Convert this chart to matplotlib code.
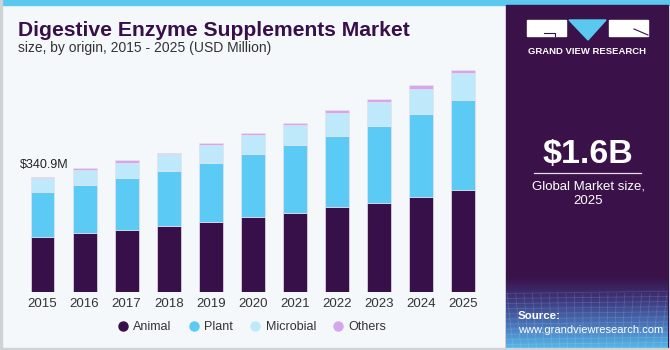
"""Digestive Enzyme Supplements Market, stacked bars by origin (USD Million)."""

import matplotlib

matplotlib.use("Agg")

import matplotlib.pyplot as plt  # noqa: E402
import numpy as np  # noqa: E402
from matplotlib.colors import LinearSegmentedColormap  # noqa: E402
from matplotlib.lines import Line2D  # noqa: E402
from matplotlib.patches import Polygon, Rectangle  # noqa: E402

plt.rcParams["font.family"] = ["Liberation Sans", "DejaVu Sans"]

years = ["2015", "2016", "2017", "2018", "2019", "2020",
         "2021", "2022", "2023", "2024", "2025"]
animal = [162.6, 173.6, 184.2, 196.0, 206.1, 220.9, 232.7, 250.5, 262.3, 280.9, 301.6]
plant = [134.0, 143.7, 153.8, 162.6, 176.2, 188.1, 202.9, 211.7, 229.5, 246.3, 265.2]
microbial = [39.6, 44.4, 44.4, 48.5, 51.5, 54.4, 59.1, 67.1, 71.0, 73.9, 81.6]
others = [4.7, 4.1, 7.1, 4.7, 5.9, 5.9, 5.9, 8.0, 8.0, 10.1, 8.9]
segments = ["Animal", "Plant", "Microbial", "Others"]
first_label = "$340.9M"

_BG = "#f4f8fb"
_PURPLE = "#37104a"
_COLORS = ["#37104a", "#5bcbf5", "#bee9fa", "#d5a6ec"]

W, H = 670, 350


def fx(px):
    return px / W


def fy(py):
    return 1 - py / H


fig = plt.figure(figsize=(6.7, 3.5), dpi=100, facecolor=_BG)

# frame: top strip, left/bottom border
fig.patches.append(Rectangle((0, fy(5)), 1, 5 / H, transform=fig.transFigure,
                             color="#5bc8f0", zorder=0))
fig.patches.append(Rectangle((0, 0), fx(2), 1, transform=fig.transFigure,
                             color="#cfd3d6", zorder=0))

# right panel
fig.patches.append(Rectangle((fx(506), 2 / H), fx(668) - fx(506), fy(5) - 2 / H,
                             transform=fig.transFigure, color="#3a1249", zorder=0))
gax = fig.add_axes([fx(506), 2 / H, fx(668) - fx(506), (348 - 278) / H])
gax.set_zorder(1)
grad = np.linspace(0, 1, 100)[:, None]
cmap = LinearSegmentedColormap.from_list(
    "g", ["#3a1249", "#3d3a80", "#4873b8", "#56b6e8"])
gax.imshow(grad, aspect="auto", cmap=cmap, extent=[0, 1, 0, 1], origin="upper")
for v in np.linspace(-0.1, 1.1, 26):
    gax.plot([v, v + 0.08 * (v - 0.5)], [0, 0.78], color="white", alpha=0.13, lw=0.6)
for h in np.linspace(0.05, 0.78, 11):
    gax.plot([0, 1], [h, h + 0.03], color="white", alpha=0.13, lw=0.6)
gax.set_xlim(0, 1)
gax.set_ylim(0, 1)
gax.axis("off")

# logo
fig.patches.append(Rectangle((fx(527), fy(36)), fx(566) - fx(527), 16 / H,
                             transform=fig.transFigure, color="white", zorder=2))
fig.patches.append(Rectangle((fx(609), fy(36)), fx(648) - fx(609), 16 / H,
                             transform=fig.transFigure, color="white", zorder=2))
fig.patches.append(Polygon([(fx(569), fy(20)), (fx(606), fy(20)), (fx(588), fy(40))],
                           closed=True, transform=fig.transFigure, color="#5bc8f0", zorder=2))
fig.lines.append(Line2D([fx(544), fx(555), fx(555)], [fy(32.5), fy(32.5), fy(36)],
                        transform=fig.transFigure, color=_PURPLE, lw=0.8, zorder=3))
fig.lines.append(Line2D([fx(634), fx(648)], [fy(29), fy(35)],
                        transform=fig.transFigure, color=_PURPLE, lw=0.8, zorder=3))
fig.text(fx(587.5), fy(51), "GRAND VIEW RESEARCH", color="white", fontsize=6.8,
         fontweight="bold", ha="center", va="center")

fig.text(fx(588), fy(155), "$1.6B", color="white", fontsize=24.5, fontweight="bold",
         ha="center", va="center")
fig.lines.append(Line2D([fx(534), fx(641)], [fy(173), fy(173)],
                        transform=fig.transFigure, color="#e8e0ee", lw=0.9))
fig.text(fx(588), fy(186), "Global Market size,", color="white", fontsize=9.5,
         ha="center", va="center")
fig.text(fx(588), fy(201), "2025", color="white", fontsize=9.5,
         ha="center", va="center")
fig.text(fx(518), fy(316), "Source:", color="white", fontsize=8.2,
         fontweight="bold", ha="left", va="center", zorder=5)
fig.text(fx(518), fy(330), "www.grandviewresearch.com", color="white", fontsize=8,
         ha="left", va="center", zorder=5)

# bottom border over everything
fig.patches.append(Rectangle((0, 0), 1, 2 / H, transform=fig.transFigure,
                             color="#cfd3d6", zorder=6))

# titles
fig.text(fx(18), fy(30), "Digestive Enzyme Supplements Market", color=_PURPLE,
         fontsize=15.2, fontweight="heavy", ha="left", va="center")
fig.text(fx(18), fy(48), "size, by origin, 2015 - 2025 (USD Million)", color="#333333",
         fontsize=10, ha="left", va="center")

# chart
ax = fig.add_axes([fx(20), fy(292), fx(490) - fx(20), (292 - 60) / H])
ax.set_facecolor("none")
x = np.arange(len(years))
bottom = np.zeros(len(years))
for name, vals, color in zip(segments, [animal, plant, microbial, others], _COLORS):
    ax.bar(x, vals, width=0.57, bottom=bottom, color=color, edgecolor="#e6e0ec",
           linewidth=0.5, label=name)
    bottom += np.array(vals)

ax.text(x[0] - 0.54, bottom[0] + 16, first_label, fontsize=9, color="#222222",
        ha="left", va="bottom")

ax.set_xlim(-0.535, 10.642)
ax.set_ylim(0, 686)
ax.set_xticks(x)
ax.set_xticklabels(years, fontsize=9.5, color="#333333")
ax.tick_params(axis="x", length=0, pad=4)
ax.set_yticks([])
for s in ax.spines.values():
    s.set_visible(False)

handles = [Line2D([], [], marker="o", linestyle="none", markersize=6.5,
                  markerfacecolor=c, markeredgecolor=c) for c in _COLORS]
fig.legend(handles, segments, loc="center", bbox_to_anchor=(fx(252), fy(327.5)),
           ncol=4, frameon=False, fontsize=9, handlelength=0.8, handletextpad=0.45,
           columnspacing=1.35, labelcolor="#333333")

fig.savefig("out.png", dpi=100, facecolor=_BG)
plt.close(fig)
